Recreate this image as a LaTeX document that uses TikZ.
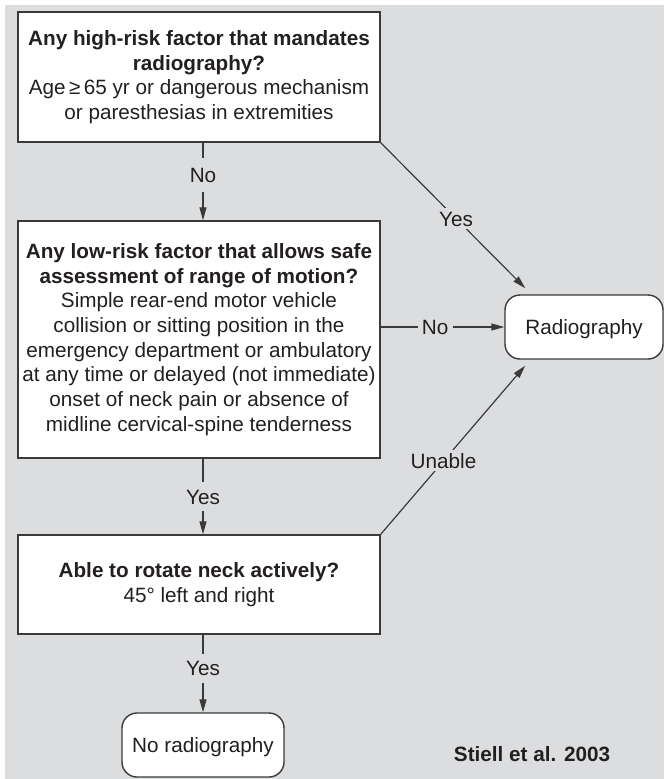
\documentclass[tikz,border=0pt]{standalone}
\usepackage{fontspec}
\setmainfont{Liberation Sans}
\usetikzlibrary{arrows.meta,calc}
\definecolor{bgc}{HTML}{DCDDDF}
\definecolor{linec}{HTML}{3A3A3A}
\definecolor{txtc}{HTML}{231F20}
\begin{document}
\begin{tikzpicture}[x=1pt,y=-1pt,
  every node/.style={text=txtc, font=\fontsize{20.7}{24.7}\selectfont},
  box/.style={draw=linec, line width=1.4pt, fill=white, inner sep=0pt, align=center, minimum width=362pt},
  rbox/.style={draw=linec, line width=1.4pt, fill=white, rounded corners=15pt, inner sep=0pt, align=center, text height=15pt, text depth=0pt},
  conn/.style={draw=linec, line width=1.2pt},
  arr/.style={conn, -{Triangle[length=13pt,width=7pt]}},
  lab/.style={fill=bgc, inner xsep=4.3pt, inner ysep=7pt, text height=15pt, text depth=0pt}]
\useasboundingbox (0,0) rectangle (664,779);
\fill[bgc] (5,5) rectangle (664,779);

\node[box, minimum height=130pt] (b1) at (199,77)
  {\bfseries Any high-risk factor that mandates\\\bfseries radiography?\\Age\,≥\,65 yr or dangerous mechanism\\or paresthesias in extremities};
\node[box, minimum height=237pt] (b2) at (199,339.5)
  {\bfseries Any low-risk factor that allows safe\\\bfseries assessment of range of motion?\\Simple rear-end motor vehicle\\collision or sitting position in the\\emergency department or ambulatory\\at any time or delayed (not immediate)\\onset of neck pain or absence of\\midline cervical-spine tenderness};
\node[box, minimum height=99pt] (b3) at (199,584.5)
  {\bfseries Able to rotate neck actively?\\45° left and right};
\node[rbox, minimum width=158pt, minimum height=64pt] (rad) at (584,327) {Radiography};
\node[rbox, minimum width=162pt, minimum height=64pt] (nr) at (203,745) {No radiography};
\node[font=\fontsize{20.7}{24.7}\selectfont\bfseries] (cite) at (532,754) {Stiell et al. 2003};

\draw[arr] (b1.south -| nr.north) -- node[lab, pos=0.42, inner ysep=9.5pt] {No} (b2.north -| nr.north);
\draw[arr] (b2.south -| nr.north) -- node[lab, midway] {Yes} (b3.north -| nr.north);
\draw[arr] (b3.south -| nr.north) -- node[lab, pos=0.43] {Yes} (nr.north);
\draw[arr] (b2.east |- rad.west) -- node[lab, pos=0.44] {No} (rad.west);
\draw[arr, shorten >=8.5pt] (b1.south east) -- node[lab, midway, inner sep=3pt] {Yes} ([xshift=27pt]rad.north west);
\draw[arr, shorten >=7.9pt] (b3.north east) -- node[lab, pos=0.42, inner sep=3pt] {Unable} ([xshift=26pt]rad.south west);
\end{tikzpicture}
\end{document}
